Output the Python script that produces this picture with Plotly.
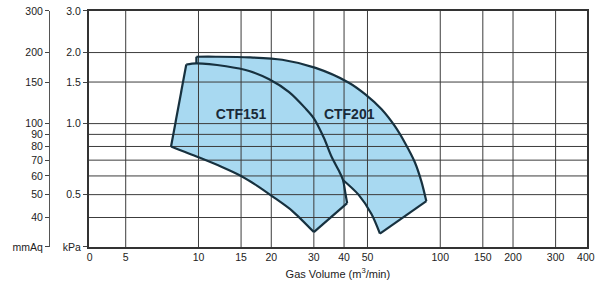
import plotly.graph_objects as go

# ---------------- data ----------------
# CTF151 operating region (Gas volume m3/min, pressure kPa)
ctf151_x = [7.7, 8.9, 9.8, 13.0, 16.2, 19.6, 23.7, 27.7, 30.0, 33.0, 35.6, 38.0, 39.6, 40.5, 41.2,
            30.0, 24.4, 20.2, 17.5, 15.0, 12.5, 10.0, 7.7]
ctf151_y = [0.80, 1.78, 1.80, 1.75, 1.67, 1.54, 1.36, 1.16, 1.053, 0.871, 0.72, 0.634, 0.577, 0.508, 0.46,
            0.347, 0.427, 0.492, 0.545, 0.60, 0.655, 0.72, 0.80]

# CTF201 region boundary (from junction with CTF151 curve, around outer edge)
ctf201_x = [39.6, 45.9, 52.0, 56.3, 87.6, 83.6, 78.5, 71.4, 64.9, 57.2, 49.0, 41.7, 30.5, 22.2,
            16.2, 11.8, 9.8, 9.8]
ctf201_y = [0.577, 0.50, 0.413, 0.342, 0.469, 0.568, 0.686, 0.83, 0.975, 1.15, 1.33, 1.494,
            1.722, 1.864, 1.909, 1.92, 1.92, 1.80]

# axis ticks
x_tickvals = [3.55, 5, 10, 15, 20, 30, 40, 50, 100, 150, 200, 300, 400]
x_ticktext = ["0", "5", "10", "15", "20", "30", "40", "50", "100", "150", "200", "300", "400"]
x_grid = [5, 10, 15, 20, 30, 40, 50, 100, 150, 200, 300]

kpa_tickvals = [0.3, 0.5, 1.0, 1.5, 2.0, 3.0]
kpa_ticktext = ["kPa", "0.5", "1.0", "1.5", "2.0", "3.0"]

mmaq_tickvals = [0.3, 0.4, 0.5, 0.6, 0.7, 0.8, 0.9, 1.0, 1.5, 2.0, 3.0]
mmaq_ticktext = ["mmAq", "40", "50", "60", "70", "80", "90", "100", "150", "200", "300"]

y_grid = [0.4, 0.5, 0.6, 0.7, 0.8, 0.9, 1.0, 1.5, 2.0]

labels = ["<b>CTF151</b>", "<b>CTF201</b>"]
label_x = [15.0, 42.0]
label_y = [1.08, 1.08]

# ---------------- styling ----------------
X_RANGE_LOG = [0.546, 2.607]
Y_RANGE_LOG = [-0.5229, 0.4771]
FILL = "#a8d9f1"
EDGE = "#17313f"
GRID = "#3c3c3c"
FONT = "Liberation Sans, Arial, sans-serif"

fig = go.Figure()

# fills (no outline)
fig.add_trace(go.Scatter(x=ctf201_x + [ctf201_x[0]], y=ctf201_y + [ctf201_y[0]],
                         fill="toself", fillcolor=FILL, mode="none",
                         hoverinfo="skip", showlegend=False))
fig.add_trace(go.Scatter(x=ctf151_x, y=ctf151_y, fill="toself", fillcolor=FILL, mode="none",
                         hoverinfo="skip", showlegend=False))

# gridlines on top of the fills
xmin, xmax = 10 ** X_RANGE_LOG[0], 10 ** X_RANGE_LOG[1]
ymin, ymax = 10 ** Y_RANGE_LOG[0], 10 ** Y_RANGE_LOG[1]
gx, gy = [], []
for v in x_grid:
    gx += [v, v, None]
    gy += [ymin, ymax, None]
for v in y_grid:
    gx += [xmin, xmax, None]
    gy += [v, v, None]
fig.add_trace(go.Scatter(x=gx, y=gy, mode="lines", line=dict(color=GRID, width=1),
                         hoverinfo="skip", showlegend=False))


def outline(xs, ys, shape):
    fig.add_trace(go.Scatter(x=xs, y=ys, mode="lines",
                             line=dict(color=EDGE, width=2.2, shape=shape, smoothing=0.8),
                             hoverinfo="skip", showlegend=False))


# CTF151 outline: left edge, top arc, right edge, lower curve
outline(ctf151_x[0:2], ctf151_y[0:2], "linear")
outline(ctf151_x[1:15], ctf151_y[1:15], "spline")
outline(ctf151_x[14:16], ctf151_y[14:16], "linear")
outline(ctf151_x[15:], ctf151_y[15:], "spline")
# CTF201 outline: lower curve, right edge, top arc, left stub
outline(ctf201_x[0:4], ctf201_y[0:4], "spline")
outline(ctf201_x[3:5], ctf201_y[3:5], "linear")
outline(ctf201_x[4:17], ctf201_y[4:17], "spline")
outline(ctf201_x[16:18], ctf201_y[16:18], "linear")

# labels
fig.add_trace(go.Scatter(x=label_x, y=label_y, mode="text", text=labels,
                         textfont=dict(family=FONT, size=14, color="#1a2a38"),
                         hoverinfo="skip", showlegend=False))

fig.update_layout(
    width=600, height=287,
    margin=dict(l=40, r=10, t=5, b=40),
    paper_bgcolor="white", plot_bgcolor="white",
    font=dict(family=FONT, size=10.5, color="#222"),
    xaxis=dict(type="log", range=X_RANGE_LOG, domain=[0.0891, 1],
               tickvals=x_tickvals, ticktext=x_ticktext, ticks="",
               showgrid=False, zeroline=False,
               showline=True, linecolor="#333", linewidth=1.5, mirror=True,
               title=dict(text="Gas Volume (m<sup>3</sup>/min)", standoff=8,
                          font=dict(size=11))),
    yaxis=dict(type="log", range=Y_RANGE_LOG, tickvals=kpa_tickvals, ticktext=kpa_ticktext,
               ticks="outside", ticklen=4, tickcolor="#444", showgrid=False, zeroline=False,
               showline=True, linecolor="#333", linewidth=1.5, mirror=True),
    yaxis2=dict(type="log", range=Y_RANGE_LOG, overlaying="y", anchor="free", position=0.0164,
                side="left", tickvals=mmaq_tickvals, ticktext=mmaq_ticktext,
                ticks="outside", ticklen=4, tickcolor="#444", showgrid=False, zeroline=False,
                showline=True, linecolor="#555", linewidth=1),
)

# an invisible trace so that the mmAq axis is drawn
fig.add_trace(go.Scatter(x=[xmin], y=[ymin], yaxis="y2", mode="markers",
                         marker=dict(opacity=0), hoverinfo="skip", showlegend=False))

fig.write_html("out.html")
